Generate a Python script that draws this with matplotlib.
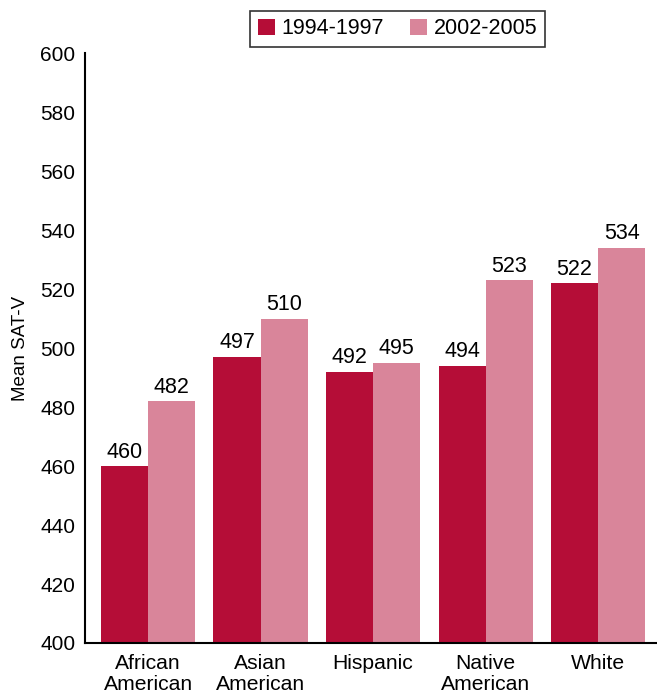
import matplotlib.pyplot as plt
import numpy as np

groups = ["African\nAmerican", "Asian\nAmerican", "Hispanic", "Native\nAmerican", "White"]
sat_1994 = [460, 497, 492, 494, 522]
sat_2002 = [482, 510, 495, 523, 534]
series_names = ["1994-1997", "2002-2005"]

dark = "#b50d37"
pink = "#d9859a"

plt.rcParams['font.family'] = ['Liberation Sans', 'DejaVu Sans']

fig = plt.figure(figsize=(6.57, 6.98), dpi=100)
ax = fig.add_axes([0.1294, 0.0788, 0.8706, 0.845])

x = np.arange(len(groups))
w = 0.418
b1 = ax.bar(x - w/2, [v - 400 for v in sat_1994], w, bottom=400, color=dark, label=series_names[0])
b2 = ax.bar(x + w/2, [v - 400 for v in sat_2002], w, bottom=400, color=pink, label=series_names[1])

for xs, vals in [(x - w/2, sat_1994), (x + w/2, sat_2002)]:
	for xi, v in zip(xs, vals):
		ax.text(xi, v + 1.2, str(v), ha='center', va='bottom', fontsize=15.5)

ax.set_ylim(400, 600)
ax.set_xlim(-0.56, 4.524)
ax.set_yticks(range(400, 601, 20))
ax.set_xticks(x)
ax.set_xticklabels(groups, fontsize=15.2, linespacing=1.15)
ax.tick_params(axis='y', length=0, pad=7, labelsize=15)
ax.tick_params(axis='x', length=0, pad=8)
ax.spines['top'].set_visible(False)
ax.spines['right'].set_visible(False)
ax.spines['left'].set_linewidth(1.5)
ax.spines['bottom'].set_linewidth(1.5)
ax.set_ylabel("Mean SAT-V", fontsize=13.5, labelpad=8)

leg = fig.legend(handles=[b1, b2], loc='upper center', bbox_to_anchor=(0.605, 1.0), ncol=2,
	fontsize=15.5, frameon=True, fancybox=False, edgecolor='black',
	handlelength=0.8, handleheight=0.8, handletextpad=0.3, columnspacing=1.2, borderpad=0.35)
leg.get_frame().set_linewidth(1.2)

fig.savefig("out.png", dpi=100)
